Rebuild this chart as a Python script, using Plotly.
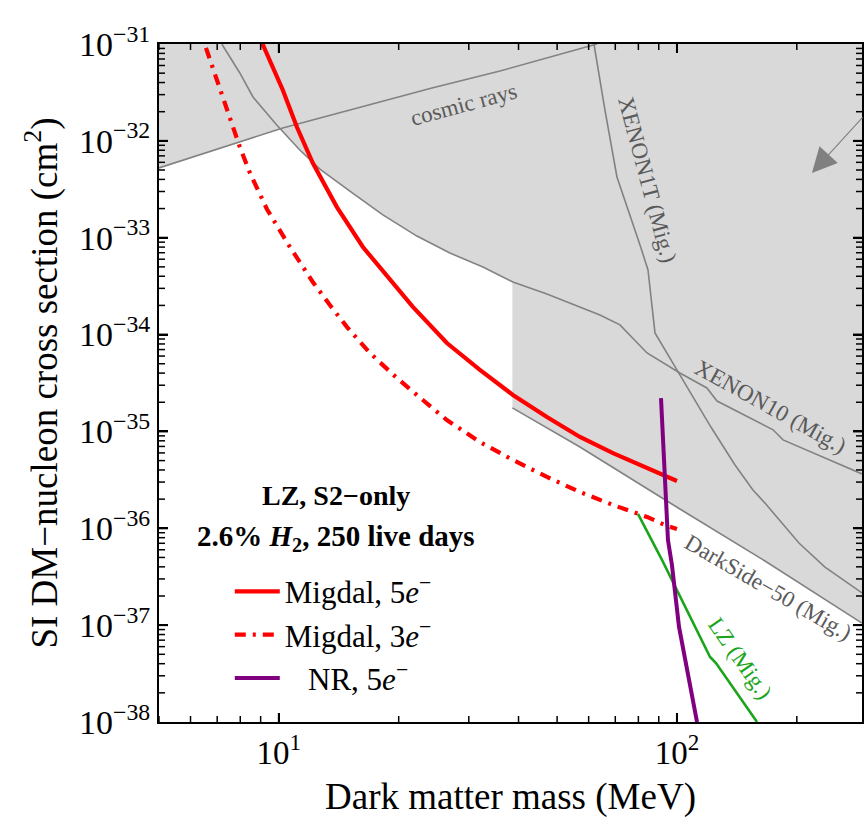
import math
import plotly.graph_objects as go

# ---------------- data ----------------
migdal5_mass = [9.1, 10.23, 11.10, 12.17, 13.99, 16.26, 21.71, 26.43, 31.99,
                38.72, 47.14, 57.06, 69.07, 84.10, 100.0]
migdal5_sigma = [1.0e-31, 3.35e-32, 1.39e-32, 5.90e-33, 2.07e-33, 8.02e-34,
                 1.93e-34, 8.18e-35, 4.31e-35, 2.38e-35, 1.41e-35, 8.77e-36, 5.98e-36,
                 4.20e-36, 3.08e-36]

migdal3_mass = [6.56, 7.03, 7.53, 7.98, 8.46, 9.33, 10.66, 11.29, 12.17, 13.43, 14.82,
                16.93, 19.79, 23.00, 26.43, 31.99, 38.72, 47.14, 57.06, 69.07, 84.10,
                93.3, 100.0]
migdal3_sigma = [9.12e-32, 3.95e-32, 1.76e-32, 8.65e-33, 4.66e-33, 1.98e-33, 8.02e-34,
                 5.48e-34, 3.49e-34, 2.02e-34, 1.20e-34, 6.46e-35, 3.56e-35, 2.11e-35,
                 1.31e-35, 7.78e-36, 5.07e-36, 3.39e-36, 2.37e-36, 1.74e-36, 1.31e-36,
                 1.08e-36, 9.84e-37]

nr5_mass = [91.18, 94.93, 97.14, 101.2, 112.3]
nr5_sigma = [2.21e-35, 7.57e-37, 4.18e-37, 9.57e-38, 1.0e-38]

lz_mig_mass = [79.8, 91.7, 121.1, 125.3, 158.9]
lz_mig_sigma = [1.41e-36, 4.71e-37, 4.69e-38, 4.06e-38, 1.0e-38]

cosmic_mass = [5.0, 10.23, 24.24, 35.93, 62.95]
cosmic_sigma = [5.25e-33, 1.36e-32, 3.52e-32, 5.26e-32, 1.0e-31]

xenon10_mass = [7.19, 7.98, 8.61, 9.88, 11.29, 12.68, 15.08, 18.25, 22.22, 26.89, 32.55,
                38.72, 47.14, 64.05, 71.92, 77.55, 84.10, 101.7, 118.9, 126.1, 174.3,
                184.7, 291.6]
xenon10_sigma = [1.0e-31, 5.02e-32, 2.84e-32, 1.46e-32, 8.05e-33, 5.12e-33, 3.03e-33,
                 1.72e-33, 1.04e-33, 6.95e-34, 4.99e-34, 3.49e-34, 2.62e-34, 1.59e-34,
                 1.26e-34, 9.23e-35, 6.46e-35, 4.01e-35, 2.81e-35, 2.06e-35, 1.04e-35,
                 8.17e-36, 3.64e-36]

xenon1t_mass = [61.87, 65.94, 70.68, 77.10, 80.75, 84.58, 86.54, 88.06, 101.7, 121.7,
                139.9, 155.2, 166.4, 202.5, 235.4, 291.6]
xenon1t_sigma = [1.0e-31, 2.08e-32, 4.24e-33, 1.52e-33, 8.41e-34, 4.65e-34, 2.02e-34,
                 1.04e-34, 3.83e-35, 1.11e-35, 4.50e-36, 2.48e-36, 1.82e-36, 7.05e-37,
                 3.98e-37, 2.15e-37]

darkside_mass = [38.6, 57.06, 101.7, 166.4, 291.6]
darkside_sigma = [1.75e-35, 6.90e-36, 1.58e-36, 4.59e-37, 1.05e-37]

# lower envelope of the excluded (shaded) region, closed over the top
excluded_mass = [5.0, 10.1, 11.29, 12.68, 15.08, 18.25, 22.22, 26.89, 32.55, 38.6, 38.6,
                 57.06, 101.7, 166.4, 291.6, 400.0, 400.0, 4.0, 4.0]
excluded_sigma = [5.25e-33, 1.32e-32, 8.05e-33, 5.12e-33, 3.03e-33, 1.72e-33, 1.04e-33,
                  6.95e-34, 4.99e-34, 3.5e-34, 1.75e-35, 6.90e-36, 1.58e-36, 4.59e-37,
                  1.05e-37, 1.05e-37, 1.0e-30, 1.0e-30, 5.25e-33]

x_major = [10, 100]
x_major_text = ["10<sup>1</sup>", "10<sup>2</sup>"]
x_minor = [5, 6, 7, 8, 9, 20, 30, 40, 50, 60, 70, 80, 90, 200]
y_exponents = [-38, -37, -36, -35, -34, -33, -32, -31]
y_major = [10.0 ** e for e in y_exponents]
y_major_text = ["10<sup>\u2212%d</sup>" % (-e) for e in y_exponents]
y_minor = [k * 10.0 ** e for e in y_exponents[:-1] for k in range(2, 10)]

# ---------------- figure ----------------
FONT = "Liberation Serif, Times New Roman, serif"
GRAY_LINE = "#828282"
GRAY_TEXT = "#5a5a5a"
X_RANGE = [math.log10(5), math.log10(291.6)]
Y_RANGE = [-38, -31]

fig = go.Figure()

fig.add_trace(go.Scatter(x=excluded_mass, y=excluded_sigma, mode="lines", fill="toself",
                         fillcolor="#d9d9d9", line=dict(width=0), hoverinfo="skip",
                         showlegend=False))
for mx, sy in [(cosmic_mass, cosmic_sigma), (xenon10_mass, xenon10_sigma),
               (xenon1t_mass, xenon1t_sigma), (darkside_mass, darkside_sigma)]:
    fig.add_trace(go.Scatter(x=mx, y=sy, mode="lines", line=dict(color=GRAY_LINE, width=1.6),
                             showlegend=False))

fig.add_trace(go.Scatter(x=lz_mig_mass, y=lz_mig_sigma, mode="lines",
                         line=dict(color="#1aa51a", width=2.6), showlegend=False))

fig.add_trace(go.Scatter(x=migdal5_mass, y=migdal5_sigma, mode="lines",
                         line=dict(color="#ff0000", width=4.2),
                         name="Migdal, 5<i>e</i><sup>\u2212</sup>", legendrank=1,
                         legendgroup="a"))
fig.add_trace(go.Scatter(x=migdal3_mass, y=migdal3_sigma, mode="lines",
                         line=dict(color="#ff0000", width=4.2,
                                   dash="11px,7px,3px,7px"),
                         name="Migdal, 3<i>e</i><sup>\u2212</sup>", legendrank=2,
                         legendgroup="b"))
fig.add_trace(go.Scatter(x=nr5_mass, y=nr5_sigma, mode="lines",
                         line=dict(color="#800080", width=4.0),
                         name="\u00a0\u00a0\u00a0NR, 5<i>e</i><sup>\u2212</sup>", legendrank=3,
                         legendgroup="c"))

ann = []
def label(text, x, y, angle, color=GRAY_TEXT, size=23):
    ann.append(dict(text=text, x=math.log10(x), y=math.log10(y), xref="x", yref="y",
                    showarrow=False, textangle=angle,
                    font=dict(family=FONT, size=size, color=color)))

label("cosmic rays", 29.16, 2.40e-32, -15)
label("XENON1T (Mig.)", 84.5, 3.94e-33, 75)
label("XENON10 (Mig.)", 171.3, 1.79e-35, 29)
label("DarkSide\u221250 (Mig.)", 169.3, 2.42e-37, 30)
label("LZ (Mig.)", 143.9, 4.48e-38, 55, color="#1aa51a")

# arrow in the upper right
ann.append(dict(text="", x=math.log10(218.3), y=math.log10(4.66e-33), xref="x", yref="y",
                ax=54, ay=-57, showarrow=True, arrowhead=2, arrowsize=4.5, arrowwidth=1.1,
                arrowcolor="#808080"))

# legend header
ann.append(dict(text="<b>LZ, S2\u2212only</b>", x=0.2518, y=0.3348, xref="paper",
                yref="paper", showarrow=False, xanchor="center", yanchor="middle",
                font=dict(family=FONT, size=28, color="black")))
ann.append(dict(text="<b>2.6% <i>H</i><sub>2</sub>, 250 live days</b>", x=0.2518, y=0.2714,
                xref="paper", yref="paper", showarrow=False, xanchor="center",
                yanchor="middle", font=dict(family=FONT, size=29, color="black")))

# inward tick marks on all four sides, placed on the axes' own scales
shapes = []
def xtick(v, length, width):
    for anchor, sign in [(0, 1), (1, -1)]:
        shapes.append(dict(type="line", xref="x", yref="y domain", x0=v, x1=v,
                           ysizemode="pixel", yanchor=anchor, y0=0, y1=sign * length,
                           line=dict(color="black", width=width), layer="above"))
def ytick(v, length, width):
    for anchor, sign in [(0, 1), (1, -1)]:
        shapes.append(dict(type="line", xref="x domain", yref="y", y0=v, y1=v,
                           xsizemode="pixel", xanchor=anchor, x0=0, x1=sign * length,
                           line=dict(color="black", width=width), layer="above"))
for v in x_major:
    xtick(v, 9, 2)
for v in x_minor:
    xtick(v, 6, 1.5)
for v in y_major[1:-1]:
    ytick(v, 9, 2)
for v in y_minor:
    ytick(v, 6, 1.5)

axis_common = dict(type="log", automargin=False, tickmode="array", ticks="inside",
                   tickcolor="black", showline=True, linewidth=2, linecolor="black",
                   mirror="ticks", showgrid=False, zeroline=False, layer="above traces")

fig.update_layout(
    template="none",
    width=864, height=827,
    margin=dict(l=159, r=2, t=44, b=105, autoexpand=False),
    paper_bgcolor="white", plot_bgcolor="white",
    font=dict(family=FONT, color="black"),
    annotations=ann,
    shapes=shapes,
    showlegend=True,
    legend=dict(x=0.1007, y=0.232, xanchor="left", yanchor="top", bgcolor="rgba(0,0,0,0)",
                font=dict(family=FONT, size=31, color="black"), tracegroupgap=11,
                itemwidth=45, traceorder="normal"),
    xaxis=dict(axis_common, range=X_RANGE,
               tickvals=x_major, ticktext=x_major_text, ticklen=9, tickwidth=2,
               tickfont=dict(family=FONT, size=33, color="black"),
               title=dict(text="Dark matter mass (MeV)", standoff=14,
                          font=dict(family=FONT, size=37, color="black"))),
    yaxis=dict(axis_common, range=Y_RANGE,
               tickvals=y_major, ticktext=y_major_text, ticklen=9, tickwidth=2,
               tickfont=dict(family=FONT, size=34, color="black"),
               title=dict(text="SI DM\u2212nucleon cross section (cm<sup>2</sup>)", standoff=10,
                          font=dict(family=FONT, size=37, color="black"))),
)

fig.write_html("out.html", config={"displayModeBar": False},
               post_script="document.body.style.margin='0px';")
